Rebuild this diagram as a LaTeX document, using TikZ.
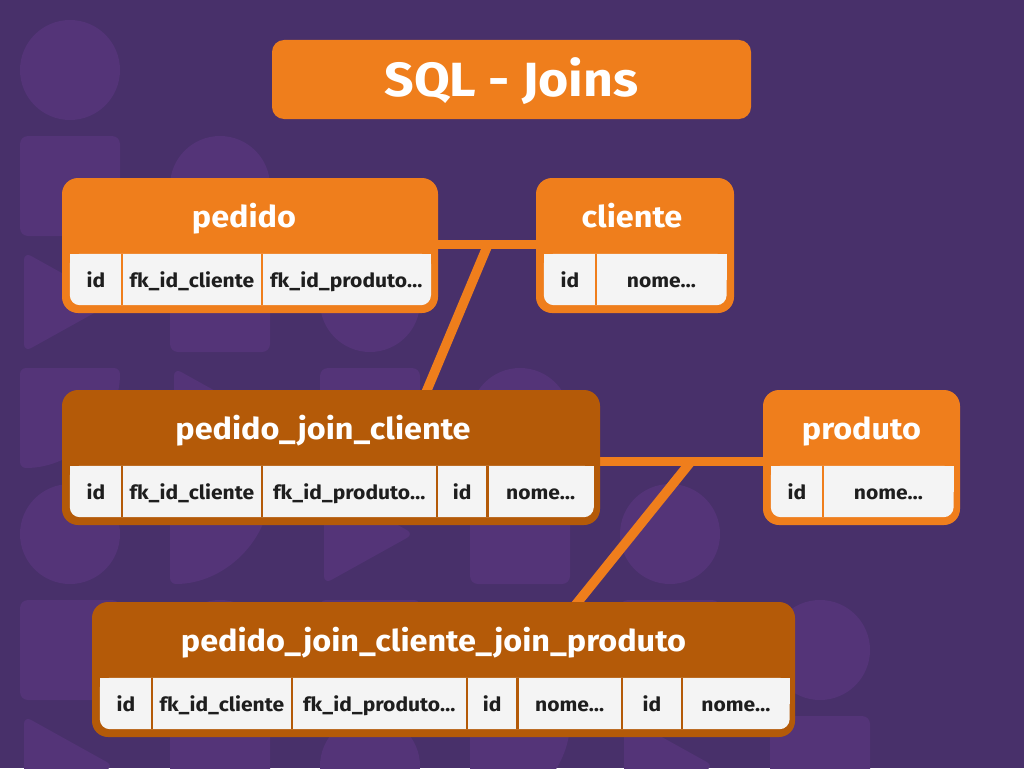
\documentclass[tikz,border=0pt]{standalone}
\usepackage{fontspec}
\setmainfont{Fira Sans}[FakeStretch=1.08]
\usepackage{xcolor}
\usepackage{tikz}
\usetikzlibrary{positioning}

\definecolor{bgpurple}{HTML}{48306A}
\definecolor{shapepurple}{HTML}{543478}
\definecolor{joinorange}{HTML}{EF7E1C}
\definecolor{darkorange}{HTML}{B45A08}
\definecolor{cellgray}{HTML}{F4F4F4}
\definecolor{textdark}{HTML}{1E1E1E}

\pgfdeclarelayer{shapes}
\pgfdeclarelayer{links}
\pgfdeclarelayer{tables}
\pgfsetlayers{shapes,links,tables,main}

\begin{document}
\begin{tikzpicture}[
  x=1pt, y=1pt,
  titlebox/.style={fill=joinorange,rounded corners=12pt,minimum width=479pt,minimum height=79pt,inner sep=0pt,
    text=white,text height=35pt,text depth=2pt,font=\bfseries\fontsize{48}{50}\selectfont},
  tablebox/.style={rounded corners=16pt,minimum height=135pt,inner sep=0pt},
  basetab/.style={tablebox,fill=joinorange},
  jointab/.style={tablebox,fill=darkorange},
  headtext/.style={anchor=base,text=white,inner sep=0pt,font=\bfseries\fontsize{30}{32}\selectfont},
  cell/.style={minimum height=51pt,inner sep=0pt,text height=17pt,text depth=2pt,
    text=textdark,font=\bfseries\fontsize{19.5}{22}\selectfont},
  cw/.style={minimum width=#1pt},
  divider/.style={draw=#1,line width=2.2pt},
  link/.style={draw=joinorange,line width=9.5pt},
  bgshape/.style={fill=shapepurple}
]
\useasboundingbox (0,0) rectangle (1024,-768);
% background pattern
\begin{pgfonlayer}{shapes}
\clip (0,0) rectangle (1024,-768);
\fill[bgpurple] (0,0) rectangle (1024,-768);
\foreach \c in {0,...,5}{
  \foreach \r in {\c,...,6}{
    \pgfmathtruncatemacro{\kind}{mod(\r-\c,4)}
    \pgfmathsetmacro{\sx}{20+150*\c}
    \pgfmathsetmacro{\sy}{-20-116*\r}
    \ifcase\kind
      \fill[bgshape] (\sx+50,\sy-50) circle[radius=50];
    \or
      \fill[bgshape,rounded corners=8pt] (\sx,\sy) rectangle ++(100,-100);
    \or
      \fill[bgshape,rounded corners=8pt] (\sx+4,\sy) -- ++(0,-100) -- ++(90,50) -- cycle;
    \or
      \fill[bgshape,rounded corners=6pt] (\sx,\sy) -- ++(100,0) arc[start angle=0,end angle=-90,radius=100] -- cycle;
    \fi
  }
}
\end{pgfonlayer}

\node[titlebox] (title) at (511.5,-79.5) {SQL - Joins};

% pedido
\begin{pgfonlayer}{tables}
\node[basetab,minimum width=376pt] (pedido) at (250,-245.5) {};
\end{pgfonlayer}
\node[headtext] (pedido-title) at ([xshift=-6pt,yshift=-50pt]pedido.north) {pedido};
\node[cell,cw=52,anchor=north west] (pedido-c1) at ([xshift=8pt,yshift=-76pt]pedido.north west) {id};
\node[cell,cw=139,right=0pt of pedido-c1] (pedido-c2) {fk\_id\_cliente};
\node[cell,cw=169,right=0pt of pedido-c2] (pedido-c3) {fk\_id\_produto…};
\begin{pgfonlayer}{tables}
\fill[cellgray,rounded corners=10pt] (pedido-c1.north west) rectangle (pedido-c3.south east);
\fill[cellgray] (pedido-c1.north west) rectangle (pedido-c3.east);
\end{pgfonlayer}
\foreach \i in {1,2}
  \draw[divider=joinorange] (pedido-c\i.north east) -- (pedido-c\i.south east);

% cliente
\begin{pgfonlayer}{tables}
\node[basetab,minimum width=198pt] (cliente) at (635,-245.5) {};
\end{pgfonlayer}
\node[headtext] (cliente-title) at ([xshift=-3pt,yshift=-50pt]cliente.north) {cliente};
\node[cell,cw=52,anchor=north west] (cliente-c1) at ([xshift=8pt,yshift=-76pt]cliente.north west) {id};
\node[cell,cw=130,right=0pt of cliente-c1] (cliente-c2) {nome…};
\begin{pgfonlayer}{tables}
\fill[cellgray,rounded corners=10pt] (cliente-c1.north west) rectangle (cliente-c2.south east);
\fill[cellgray] (cliente-c1.north west) rectangle (cliente-c2.east);
\end{pgfonlayer}
\draw[divider=joinorange] (cliente-c1.north east) -- (cliente-c1.south east);

% pedido_join_cliente
\begin{pgfonlayer}{tables}
\node[jointab,minimum width=538pt] (pedcli) at (331,-457.5) {};
\end{pgfonlayer}
\node[headtext] (pedcli-title) at ([xshift=-8pt,yshift=-50pt]pedcli.north) {pedido\_join\_cliente};
\node[cell,cw=52,anchor=north west] (pedcli-c1) at ([xshift=8pt,yshift=-76pt]pedcli.north west) {id};
\node[cell,cw=139,right=0pt of pedcli-c1] (pedcli-c2) {fk\_id\_cliente};
\node[cell,cw=175,right=0pt of pedcli-c2] (pedcli-c3) {fk\_id\_produto…};
\node[cell,cw=50,right=0pt of pedcli-c3] (pedcli-c4) {id};
\node[cell,cw=106,right=0pt of pedcli-c4] (pedcli-c5) {nome…};
\begin{pgfonlayer}{tables}
\fill[cellgray,rounded corners=10pt] (pedcli-c1.north west) rectangle (pedcli-c5.south east);
\fill[cellgray] (pedcli-c1.north west) rectangle (pedcli-c5.east);
\end{pgfonlayer}
\foreach \i in {1,...,4}
  \draw[divider=darkorange] (pedcli-c\i.north east) -- (pedcli-c\i.south east);

% produto
\begin{pgfonlayer}{tables}
\node[basetab,minimum width=197pt] (produto) at (861.5,-457.5) {};
\end{pgfonlayer}
\node[headtext] (produto-title) at ([yshift=-50pt]produto.north) {produto};
\node[cell,cw=52,anchor=north west] (produto-c1) at ([xshift=8pt,yshift=-76pt]produto.north west) {id};
\node[cell,cw=130,right=0pt of produto-c1] (produto-c2) {nome…};
\begin{pgfonlayer}{tables}
\fill[cellgray,rounded corners=10pt] (produto-c1.north west) rectangle (produto-c2.south east);
\fill[cellgray] (produto-c1.north west) rectangle (produto-c2.east);
\end{pgfonlayer}
\draw[divider=joinorange] (produto-c1.north east) -- (produto-c1.south east);

% pedido_join_cliente_join_produto
\begin{pgfonlayer}{tables}
\node[jointab,minimum width=703pt] (pedcliprod) at (443.5,-669.5) {};
\end{pgfonlayer}
\node[headtext] (pedcliprod-title) at ([xshift=-10pt,yshift=-50pt]pedcliprod.north) {pedido\_join\_cliente\_join\_produto};
\node[cell,cw=52,anchor=north west] (pedcliprod-c1) at ([xshift=8pt,yshift=-76pt]pedcliprod.north west) {id};
\node[cell,cw=139,right=0pt of pedcliprod-c1] (pedcliprod-c2) {fk\_id\_cliente};
\node[cell,cw=175,right=0pt of pedcliprod-c2] (pedcliprod-c3) {fk\_id\_produto…};
\node[cell,cw=50,right=0pt of pedcliprod-c3] (pedcliprod-c4) {id};
\node[cell,cw=104,right=0pt of pedcliprod-c4] (pedcliprod-c5) {nome…};
\node[cell,cw=60,right=0pt of pedcliprod-c5] (pedcliprod-c6) {id};
\node[cell,cw=107,right=0pt of pedcliprod-c6] (pedcliprod-c7) {nome…};
\begin{pgfonlayer}{tables}
\fill[cellgray,rounded corners=10pt] (pedcliprod-c1.north west) rectangle (pedcliprod-c7.south east);
\fill[cellgray] (pedcliprod-c1.north west) rectangle (pedcliprod-c7.east);
\end{pgfonlayer}
\foreach \i in {1,...,6}
  \draw[divider=darkorange] (pedcliprod-c\i.north east) -- (pedcliprod-c\i.south east);

% join connectors
\coordinate (pc-join) at (488,-244.5);
\coordinate (pcp-join) at (691,-461.5);
\begin{pgfonlayer}{links}
\draw[link] (pedido.east |- pc-join) -- (cliente.west |- pc-join);
\draw[link] (pc-join) -- ([xshift=94pt,yshift=-5pt]pedcli.north);
\draw[link] (pedcli.east |- pcp-join) -- (produto.west |- pcp-join);
\draw[link] (pcp-join) -- ([xshift=130.5pt,yshift=-5pt]pedcliprod.north);
\end{pgfonlayer}
\end{tikzpicture}
\end{document}
